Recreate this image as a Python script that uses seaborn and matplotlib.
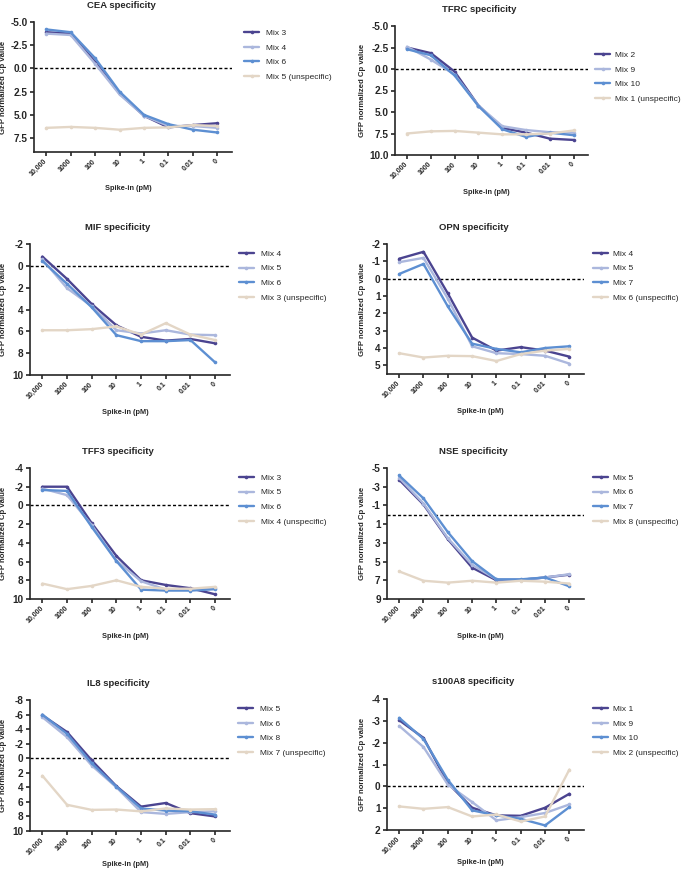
import matplotlib
matplotlib.use('Agg')
import matplotlib.pyplot as plt
import seaborn as sns
import pandas as pd

sns.set_style('ticks')
plt.rcParams['font.family'] = ['Liberation Sans', 'DejaVu Sans']

spike_labels = ['10,000', '1000', '100', '10', '1', '0.1', '0.01', '0']

# ---- data (GFP normalized Cp values) ----
cea_names = ['Mix 3', 'Mix 4', 'Mix 6', 'Mix 5 (unspecific)']
cea_mix3 = [-3.9, -3.75, -0.7, 2.7, 5.1, 6.35, 6.1, 5.9]
cea_mix4 = [-3.75, -3.6, -0.5, 2.8, 5.1, 6.2, 6.2, 6.4]
cea_mix6 = [-4.2, -3.9, -1.1, 2.5, 5.0, 6.0, 6.6, 6.9]
cea_mix5 = [6.4, 6.3, 6.4, 6.6, 6.4, 6.35, 6.1, 6.2]

tfrc_names = ['Mix 2', 'Mix 9', 'Mix 10', 'Mix 1 (unspecific)']
tfrc_mix2 = [-2.5, -1.85, 0.3, 4.25, 6.85, 7.4, 8.1, 8.25]
tfrc_mix9 = [-2.6, -1.1, 0.65, 4.25, 6.65, 7.1, 7.35, 7.4]
tfrc_mix10 = [-2.3, -1.6, 0.75, 4.3, 7.0, 7.9, 7.4, 7.7]
tfrc_mix1 = [7.5, 7.25, 7.2, 7.4, 7.6, 7.6, 7.5, 7.15]

mif_names = ['Mix 4', 'Mix 5', 'Mix 6', 'Mix 3 (unspecific)']
mif_mix4 = [-0.85, 1.2, 3.5, 5.45, 6.5, 6.85, 6.7, 7.1]
mif_mix5 = [-0.6, 2.05, 3.7, 5.9, 6.2, 5.9, 6.3, 6.35]
mif_mix6 = [-0.45, 1.65, 3.8, 6.35, 6.9, 6.9, 6.8, 8.85]
mif_mix3 = [5.9, 5.9, 5.8, 5.55, 6.3, 5.25, 6.3, 6.8]

opn_names = ['Mix 4', 'Mix 5', 'Mix 7', 'Mix 6 (unspecific)']
opn_mix4 = [-1.15, -1.55, 0.85, 3.4, 4.15, 3.95, 4.15, 4.5]
opn_mix5 = [-0.95, -1.2, 1.15, 3.9, 4.3, 4.35, 4.45, 4.9]
opn_mix7 = [-0.27, -0.85, 1.6, 3.75, 4.05, 4.25, 4.0, 3.9]
opn_mix6 = [4.3, 4.55, 4.45, 4.47, 4.75, 4.35, 4.15, 4.05]

tff3_names = ['Mix 3', 'Mix 5', 'Mix 6', 'Mix 4 (unspecific)']
tff3_mix3 = [-2.0, -2.0, 1.9, 5.4, 8.0, 8.5, 8.85, 9.5]
tff3_mix5 = [-1.8, -1.1, 2.1, 5.9, 8.1, 9.0, 9.0, 8.8]
tff3_mix6 = [-1.65, -1.55, 2.3, 5.95, 9.0, 9.1, 9.1, 8.95]
tff3_mix4 = [8.35, 8.95, 8.6, 8.0, 8.7, 8.9, 8.9, 8.7]

nse_names = ['Mix 5', 'Mix 6', 'Mix 7', 'Mix 8 (unspecific)']
nse_mix5 = [-3.75, -1.1, 2.6, 5.65, 7.0, 6.95, 6.7, 6.4]
nse_mix6 = [-3.95, -1.2, 2.5, 5.35, 6.9, 6.95, 6.7, 6.35]
nse_mix7 = [-4.2, -1.75, 1.85, 4.95, 6.9, 6.9, 6.7, 7.65]
nse_mix8 = [6.05, 7.05, 7.25, 7.05, 7.25, 7.05, 7.15, 7.35]

il8_names = ['Mix 5', 'Mix 6', 'Mix 8', 'Mix 7 (unspecific)']
il8_mix5 = [-5.9, -3.6, 0.3, 3.85, 6.65, 6.15, 7.55, 8.0]
il8_mix6 = [-5.65, -2.9, 1.0, 4.0, 7.4, 7.65, 7.4, 7.3]
il8_mix8 = [-6.0, -3.35, 0.7, 3.9, 6.9, 7.2, 7.3, 7.75]
il8_mix7 = [2.4, 6.4, 7.1, 7.05, 7.3, 6.9, 7.05, 7.0]

s100_names = ['Mix 1', 'Mix 9', 'Mix 10', 'Mix 2 (unspecific)']
s100_mix1 = [-3.03, -2.22, -0.15, 0.98, 1.33, 1.35, 0.98, 0.34]
s100_mix9 = [-2.77, -1.8, -0.08, 0.72, 1.56, 1.41, 1.22, 0.83]
s100_mix10 = [-3.14, -2.17, -0.3, 1.1, 1.33, 1.49, 1.79, 0.95]
s100_mix2 = [0.92, 1.03, 0.95, 1.38, 1.29, 1.61, 1.38, -0.77]

panels = [
    ('CEA specificity', cea_names, [cea_mix3, cea_mix4, cea_mix6, cea_mix5],
     (9.0, -5.0), [-5.0, -2.5, 0.0, 2.5, 5.0, 7.5], '{:.1f}'),
    ('TFRC specificity', tfrc_names, [tfrc_mix2, tfrc_mix9, tfrc_mix10, tfrc_mix1],
     (10.0, -5.0), [-5.0, -2.5, 0.0, 2.5, 5.0, 7.5, 10.0], '{:.1f}'),
    ('MIF specificity', mif_names, [mif_mix4, mif_mix5, mif_mix6, mif_mix3],
     (10, -2), [-2, 0, 2, 4, 6, 8, 10], '{:d}'),
    ('OPN specificity', opn_names, [opn_mix4, opn_mix5, opn_mix7, opn_mix6],
     (5.5, -2), [-2, -1, 0, 1, 2, 3, 4, 5], '{:d}'),
    ('TFF3 specificity', tff3_names, [tff3_mix3, tff3_mix5, tff3_mix6, tff3_mix4],
     (10, -4), [-4, -2, 0, 2, 4, 6, 8, 10], '{:d}'),
    ('NSE specificity', nse_names, [nse_mix5, nse_mix6, nse_mix7, nse_mix8],
     (9, -5), [-5, -3, -1, 1, 3, 5, 7, 9], '{:d}'),
    ('IL8 specificity', il8_names, [il8_mix5, il8_mix6, il8_mix8, il8_mix7],
     (10, -8), [-8, -6, -4, -2, 0, 2, 4, 6, 8, 10], '{:d}'),
    ('s100A8 specificity', s100_names, [s100_mix1, s100_mix9, s100_mix10, s100_mix2],
     (2, -4), [-4, -3, -2, -1, 0, 1, 2], '{:d}'),
]

colors = ['#4b4490', '#abb7dd', '#5d8fd2', '#e3d6c6']

# ---- layout in pixels: left, top, right, bottom; legend x, y; xlabel offset ----
W, H = 685, 869
boxes = [
    (34, 22, 232, 152, 244, 29, 37),
    (395, 26, 588, 155, 595, 51, 38),
    (30, 244, 230, 375, 239, 250, 37),
    (387, 244, 584, 374, 593, 250, 37),
    (30, 468, 230, 599, 239, 474, 37),
    (387, 468, 584, 599, 593, 474, 37),
    (30, 700, 230, 831, 238, 705, 33),
    (387, 699, 584, 830, 593, 705, 33),
]
ylab_x = [4, 363, 4, 363, 4, 363, 4, 363]
legend_pad = [0.8, 0.65, 0.8, 0.65, 0.8, 0.65, 0.8, 0.65]

fig = plt.figure(figsize=(W / 100, H / 100), dpi=100)
fig.patch.set_facecolor('white')

for (title, names, series, ylim, yticks, fmt), (l, t, r, b, lx, ly, xo), yx, lp in zip(
        panels, boxes, ylab_x, legend_pad):
    ax = fig.add_axes([l / W, 1 - b / H, (r - l) / W, (b - t) / H])
    rows = []
    for name, vals in zip(names, series):
        for i, v in enumerate(vals):
            rows.append({'x': i, 'y': v, 'series': name})
    df = pd.DataFrame(rows)
    ax.axhline(0, color='black', lw=1.0, ls=(0, (2.2, 1.6)), zorder=1)
    sns.lineplot(data=df, x='x', y='y', hue='series', hue_order=names,
                 palette=colors, sort=False, marker='o', markersize=2.6,
                 markeredgewidth=0, linewidth=1.7, ax=ax, legend='full', zorder=3)
    ax.set_xlim(-0.5, 7.6)
    ax.set_ylim(*ylim)
    ax.set_yticks(yticks, labels=[fmt.format(v) for v in yticks],
                  fontsize=7.2, fontweight='bold')
    ax.set_xticks(range(len(spike_labels)), labels=spike_labels, rotation=45,
                  ha='right', va='center', rotation_mode='anchor',
                  fontsize=5, fontweight='bold')
    ax.set_xlabel('')
    ax.set_ylabel('')
    sns.despine(ax=ax)
    for s in ['left', 'bottom']:
        ax.spines[s].set_linewidth(1.2)
    ax.tick_params(axis='both', direction='out', length=3, width=1.2, pad=1.5)
    ax.tick_params(axis='x', pad=3)
    h, lab = ax.get_legend_handles_labels()
    ax.legend(h, lab, loc='upper left', bbox_to_anchor=(lx / W, 1 - ly / H),
              bbox_transform=fig.transFigure, frameon=False, fontsize=6.0,
              handlelength=1.8, handletextpad=lp, labelspacing=0.82,
              borderaxespad=0, borderpad=0)
    cx = (l + r) / 2
    fig.text((cx - 12) / W, 1 - (t - 17) / H, title, ha='center', va='center',
             fontsize=6.8, fontweight='bold')
    fig.text((cx - 5) / W, 1 - (b + xo) / H, 'Spike-in (pM)', ha='center',
             va='center', fontsize=5.3, fontweight='bold')
    fig.text(yx / W, 1 - ((t + b) / 2) / H, 'GFP normalized Cp value',
             ha='center', va='center', rotation=90, fontsize=5.6,
             fontweight='bold')

fig.savefig('out.png', dpi=100, facecolor='white')
